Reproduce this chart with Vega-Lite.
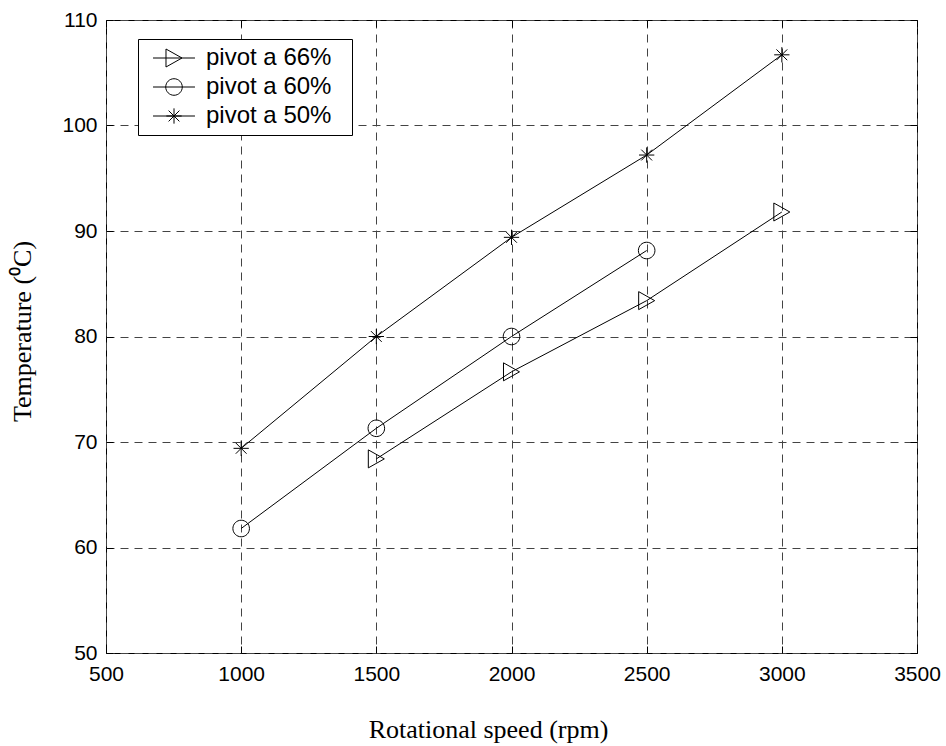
{
  "$schema": "https://vega.github.io/schema/vega-lite/v6.json",
  "width": 811,
  "height": 633,
  "autosize": {"type": "none"},
  "padding": {"left": 106, "top": 20, "right": 29, "bottom": 93},
  "background": "white",
  "config": {
    "view": {"stroke": "black", "strokeWidth": 1},
    "axis": {
      "labelFont": "Liberation Sans",
      "labelFontSize": 21,
      "labelColor": "black",
      "titleFont": "Liberation Serif",
      "titleFontSize": 26,
      "titleFontWeight": "normal",
      "titleColor": "black",
      "domainColor": "black",
      "tickColor": "black",
      "labelOverlap": false,
      "labelFlush": false
    }
  },
  "data": {
    "values": [
      {"series": "pivot a 66%", "speed": 1500, "temp": 68.4},
      {"series": "pivot a 66%", "speed": 2000, "temp": 76.65},
      {"series": "pivot a 66%", "speed": 2500, "temp": 83.4},
      {"series": "pivot a 66%", "speed": 3000, "temp": 91.8},
      {"series": "pivot a 60%", "speed": 1000, "temp": 61.8},
      {"series": "pivot a 60%", "speed": 1500, "temp": 71.3},
      {"series": "pivot a 60%", "speed": 2000, "temp": 80.0},
      {"series": "pivot a 60%", "speed": 2500, "temp": 88.15},
      {"series": "pivot a 50%", "speed": 1000, "temp": 69.4},
      {"series": "pivot a 50%", "speed": 1500, "temp": 80.0},
      {"series": "pivot a 50%", "speed": 2000, "temp": 89.4},
      {"series": "pivot a 50%", "speed": 2500, "temp": 97.2},
      {"series": "pivot a 50%", "speed": 3000, "temp": 106.7}
    ]
  },
  "resolve": {"axis": {"x": "independent", "y": "independent"}, "scale": {"shape": "independent"}, "legend": {"shape": "independent"}},
  "layer": [
    {
      "mark": {"type": "line", "color": "black", "strokeWidth": 1},
      "encoding": {
        "x": {
          "field": "speed", "type": "quantitative",
          "scale": {"domain": [500, 3500], "nice": false, "zero": false},
          "axis": {
            "orient": "bottom",
            "title": "Rotational speed (rpm)",
            "values": [500, 1000, 1500, 2000, 2500, 3000, 3500],
            "format": "d",
            "tickSize": -7,
            "labelPadding": 17,
            "titleX": 382,
            "titleY": 84,
            "titleBaseline": "alphabetic",
            "grid": true,
            "gridColor": "#444444",
            "gridDash": [8, 6],
            "gridWidth": 1,
            "domain": false
          }
        },
        "y": {
          "field": "temp", "type": "quantitative",
          "scale": {"domain": [50, 110], "nice": false, "zero": false},
          "axis": {
            "orient": "left",
            "title": "Temperature (⁰C)",
            "values": [50, 60, 70, 80, 90, 100, 110],
            "tickSize": -7,
            "labelPadding": 16,
            "titleX": -76,
            "titleY": 311,
            "titleAngle": -90,
            "titleBaseline": "alphabetic",
            "grid": true,
            "gridColor": "#444444",
            "gridDash": [8, 6],
            "gridWidth": 1,
            "domain": false
          }
        },
        "detail": {"field": "series"}
      }
    },
    {
      "mark": {"type": "point", "filled": false, "stroke": "black", "strokeWidth": 1, "size": 324, "opacity": 1},
      "encoding": {
        "x": {
          "field": "speed", "type": "quantitative",
          "axis": {
            "orient": "top", "title": null, "labels": false, "grid": false, "domain": false,
            "values": [500, 1000, 1500, 2000, 2500, 3000, 3500], "tickSize": -7
          }
        },
        "y": {
          "field": "temp", "type": "quantitative",
          "axis": {
            "orient": "right", "title": null, "labels": false, "grid": false, "domain": false,
            "values": [50, 60, 70, 80, 90, 100, 110], "tickSize": -7
          }
        },
        "shape": {
          "field": "series", "type": "nominal",
          "scale": {
            "domain": ["pivot a 66%", "pivot a 60%", "pivot a 50%"],
            "range": [
              "M-0.89,-1L0.89,0L-0.89,1Z",
              "M-0.92,0A0.92,0.92,0,1,1,0.92,0A0.92,0.92,0,1,1,-0.92,0Z",
              "M-0.85,0L0.85,0M0,-0.85L0,0.85M-0.6,-0.6L0.6,0.6M-0.6,0.6L0.6,-0.6"
            ]
          },
          "legend": null
        }
      }
    },
    {
      "mark": {"type": "point", "filled": false, "stroke": "black", "strokeWidth": 1, "size": 324, "opacity": 0},
      "encoding": {
        "x": {"field": "speed", "type": "quantitative", "axis": null},
        "y": {"field": "temp", "type": "quantitative", "axis": null},
        "shape": {
          "field": "series", "type": "nominal",
          "sort": ["pivot a 66%", "pivot a 60%", "pivot a 50%"],
          "scale": {
            "domain": ["pivot a 66%", "pivot a 60%", "pivot a 50%"],
            "range": [
              "M18.7,0M-2.33,0L2.33,0M-0.89,-1L0.89,0L-0.89,1Z",
              "M18.7,0M-2.33,0L2.33,0M-0.92,0A0.92,0.92,0,1,1,0.92,0A0.92,0.92,0,1,1,-0.92,0Z",
              "M18.7,0M-2.33,0L2.33,0M-0.85,0L0.85,0M0,-0.85L0,0.85M-0.6,-0.6L0.6,0.6M-0.6,0.6L0.6,-0.6"
            ]
          },
          "legend": {
            "title": null,
            "orient": "none",
            "legendX": 32,
            "legendY": 19,
            "fillColor": "white",
            "strokeColor": "black",
            "cornerRadius": 0,
            "padding": 7,
            "symbolSize": 324,
            "symbolOpacity": 1,
            "symbolOffset": 17,
            "symbolStrokeColor": "black",
            "symbolFillColor": "transparent",
            "symbolStrokeWidth": 1,
            "labelFont": "Liberation Sans",
            "labelFontSize": 24,
            "labelColor": "black",
            "labelOffset": 20,
            "rowPadding": 5
          }
        }
      }
    }
  ]
}
